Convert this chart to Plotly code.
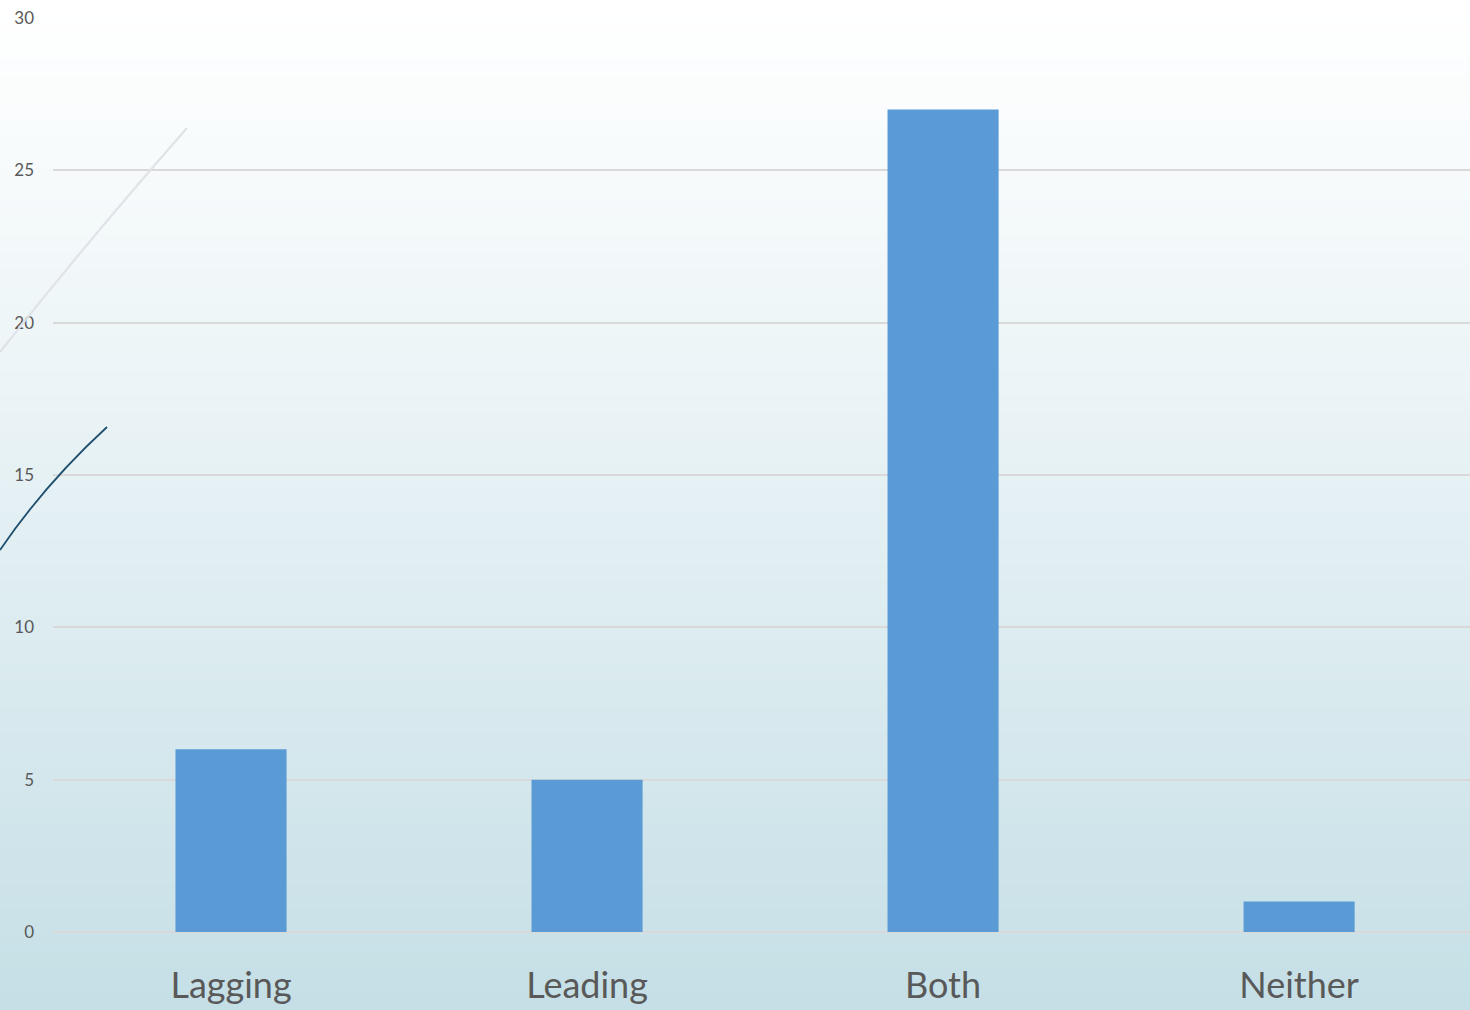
import plotly.graph_objects as go

categories = ["Lagging", "Leading", "Both", "Neither"]
values = [6, 5, 27, 1]
y_ticks = [0, 5, 10, 15, 20, 25, 30]

W, H = 1470, 1010
ML, MR, MT, MB = 53, 0, 18, 78
PW, PH = W - ML - MR, H - MT - MB

def px(x):
    return (x - ML) / PW

def py(y):
    return (H - MB - y) / PH

fig = go.Figure(go.Bar(
    x=categories, y=values, width=0.312,
    marker=dict(color="#5b9bd5", line=dict(width=0)),
    hoverinfo="skip",
))

shapes = []
# background vertical gradient (white at top -> light blue at bottom)
n = 120
top = (255, 255, 255)
bot = (197, 223, 230)
for i in range(n):
    t = (i + 0.5) / n
    t = t ** 1.1
    c = tuple(round(top[k] + (bot[k] - top[k]) * t) for k in range(3))
    y0 = i * H / n
    y1 = (i + 1) * H / n + 1
    shapes.append(dict(type="rect", xref="paper", yref="paper",
                       x0=px(0), x1=px(W), y0=py(y0), y1=py(y1),
                       fillcolor="rgb(%d,%d,%d)" % c, line=dict(width=0), layer="below"))

def curve(pts, color, width):
    (x0, y0), (cx, cy), (x1, y1) = pts
    path = "M %f %f Q %f %f %f %f" % (px(x0), py(y0), px(cx), py(cy), px(x1), py(y1))
    return dict(type="path", xref="paper", yref="paper", path=path,
                line=dict(color=color, width=width), layer="above")

shapes.append(curve([(0, 352), (86, 243), (187, 128)], "rgba(222,226,230,0.95)", 2.2))
shapes.append(curve([(0, 550), (45, 484), (107, 427)], "#1f4f6e", 1.8))

fig.update_layout(
    width=W, height=H,
    margin=dict(l=ML, r=MR, t=MT, b=MB, pad=0),
    paper_bgcolor="rgba(0,0,0,0)",
    plot_bgcolor="rgba(0,0,0,0)",
    shapes=shapes,
    showlegend=False,
    xaxis=dict(range=[-0.5, 3.48], showgrid=False, showline=False, zeroline=False, ticks="",
               tickfont=dict(family="Lato, Open Sans, sans-serif", size=36, color="#595959"),
               ticklabelstandoff=29),
    yaxis=dict(range=[0, 30], tickvals=y_ticks, showgrid=True, gridcolor="#d9d9d9",
               gridwidth=1.5, zeroline=True, zerolinecolor="#d9d9d9", zerolinewidth=2,
               showline=False, ticks="",
               tickfont=dict(family="Lato, Open Sans, sans-serif", size=17, color="#595959"),
               ticklabelstandoff=18),
)

fig.write_html("out.html", config={"displayModeBar": False},
               post_script="document.body.style.margin='0';document.body.style.overflow='hidden';")
